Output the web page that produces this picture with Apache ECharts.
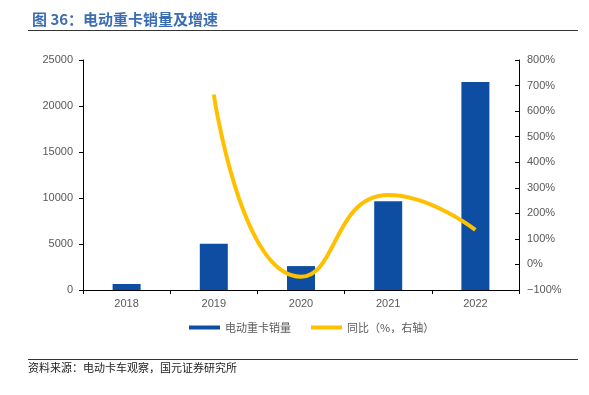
<!DOCTYPE html>
<html><head><meta charset="utf-8">
<script src="https://cdn.jsdelivr.net/npm/echarts@6/dist/echarts.min.js"></script>
<style>html,body{margin:0;padding:0;background:#fff}#c{width:589px;height:395px}</style>
</head><body><div id="c"></div>
<script>
var categories = ['2018','2019','2020','2021','2022'];
var sales = [650, 5030, 2600, 9650, 22600];
var growth = [null, 665, -48, 272, 135];
var leftTicks = [0, 5000, 10000, 15000, 20000, 25000];
var rightTicks = [-100, 0, 100, 200, 300, 400, 500, 600, 700, 800];

var chart = echarts.init(document.getElementById('c'));
chart.setOption({
  animation: false,
  title: {
    text: '图 36：电动重卡销量及增速',
    left: 27, top: 7,
    textStyle: {color: '#3a6db3', fontSize: 15, fontWeight: 'bold', fontFamily: 'Noto Sans CJK SC'}
  },
  graphic: [
    {type: 'line', shape: {x1: 28, y1: 30.5, x2: 578, y2: 30.5}, style: {stroke: '#333', lineWidth: 1}},
    {type: 'line', shape: {x1: 28, y1: 359.5, x2: 578, y2: 359.5}, style: {stroke: '#333', lineWidth: 1}},
    {type: 'text', left: 28, top: 362, style: {text: '资料来源：电动卡车观察，国元证券研究所', fill: '#222', fontSize: 11, fontFamily: 'Noto Sans CJK SC'}}
  ],
  legend: {
    bottom: 57, left: 184, itemGap: 20, itemWidth: 31, itemHeight: 4,
    textStyle: {color: '#595959', fontSize: 11, fontFamily: 'Noto Sans CJK SC'},
    data: [
      {name: '电动重卡销量', icon: 'rect'},
      {name: '同比（%，右轴）', icon: 'rect'}
    ]
  },
  grid: {left: 83, right: 70, top: 60, bottom: 105},
  xAxis: {
    type: 'category', data: categories,
    axisLine: {lineStyle: {color: '#000'}},
    axisTick: {show: true, alignWithLabel: false, length: 4, lineStyle: {color: '#000'}},
    axisLabel: {color: '#595959', fontSize: 11, fontFamily: 'Liberation Sans', margin: 8}
  },
  yAxis: [
    {
      type: 'value', min: 0, max: 25000, interval: 5000,
      axisLine: {show: true, lineStyle: {color: '#000'}},
      axisTick: {show: true, length: 4, lineStyle: {color: '#000'}},
      splitLine: {show: false},
      axisLabel: {color: '#595959', fontSize: 11, fontFamily: 'Liberation Sans', margin: 10,
        formatter: function(v){ return String(v); }}
    },
    {
      type: 'value', min: -100, max: 800, interval: 100, position: 'right',
      axisLine: {show: true, lineStyle: {color: '#000'}},
      axisTick: {show: true, inside: true, length: 4, lineStyle: {color: '#000'}},
      splitLine: {show: false},
      axisLabel: {color: '#595959', fontSize: 11, fontFamily: 'Liberation Sans', margin: 8,
        formatter: function(v){ return (v < 0 ? '\u2212' + (-v) : v) + '%'; }}
    }
  ],
  series: [
    {
      name: '电动重卡销量', type: 'bar', data: sales, barWidth: 28,
      itemStyle: {color: '#0d4ea3'}
    },
    {
      name: '同比（%，右轴）', type: 'line', yAxisIndex: 1, data: growth,
      smooth: 0.55, showSymbol: false, connectNulls: false,
      lineStyle: {color: '#ffc000', width: 4}, itemStyle: {color: '#ffc000'}
    }
  ]
});
</script></body></html>
